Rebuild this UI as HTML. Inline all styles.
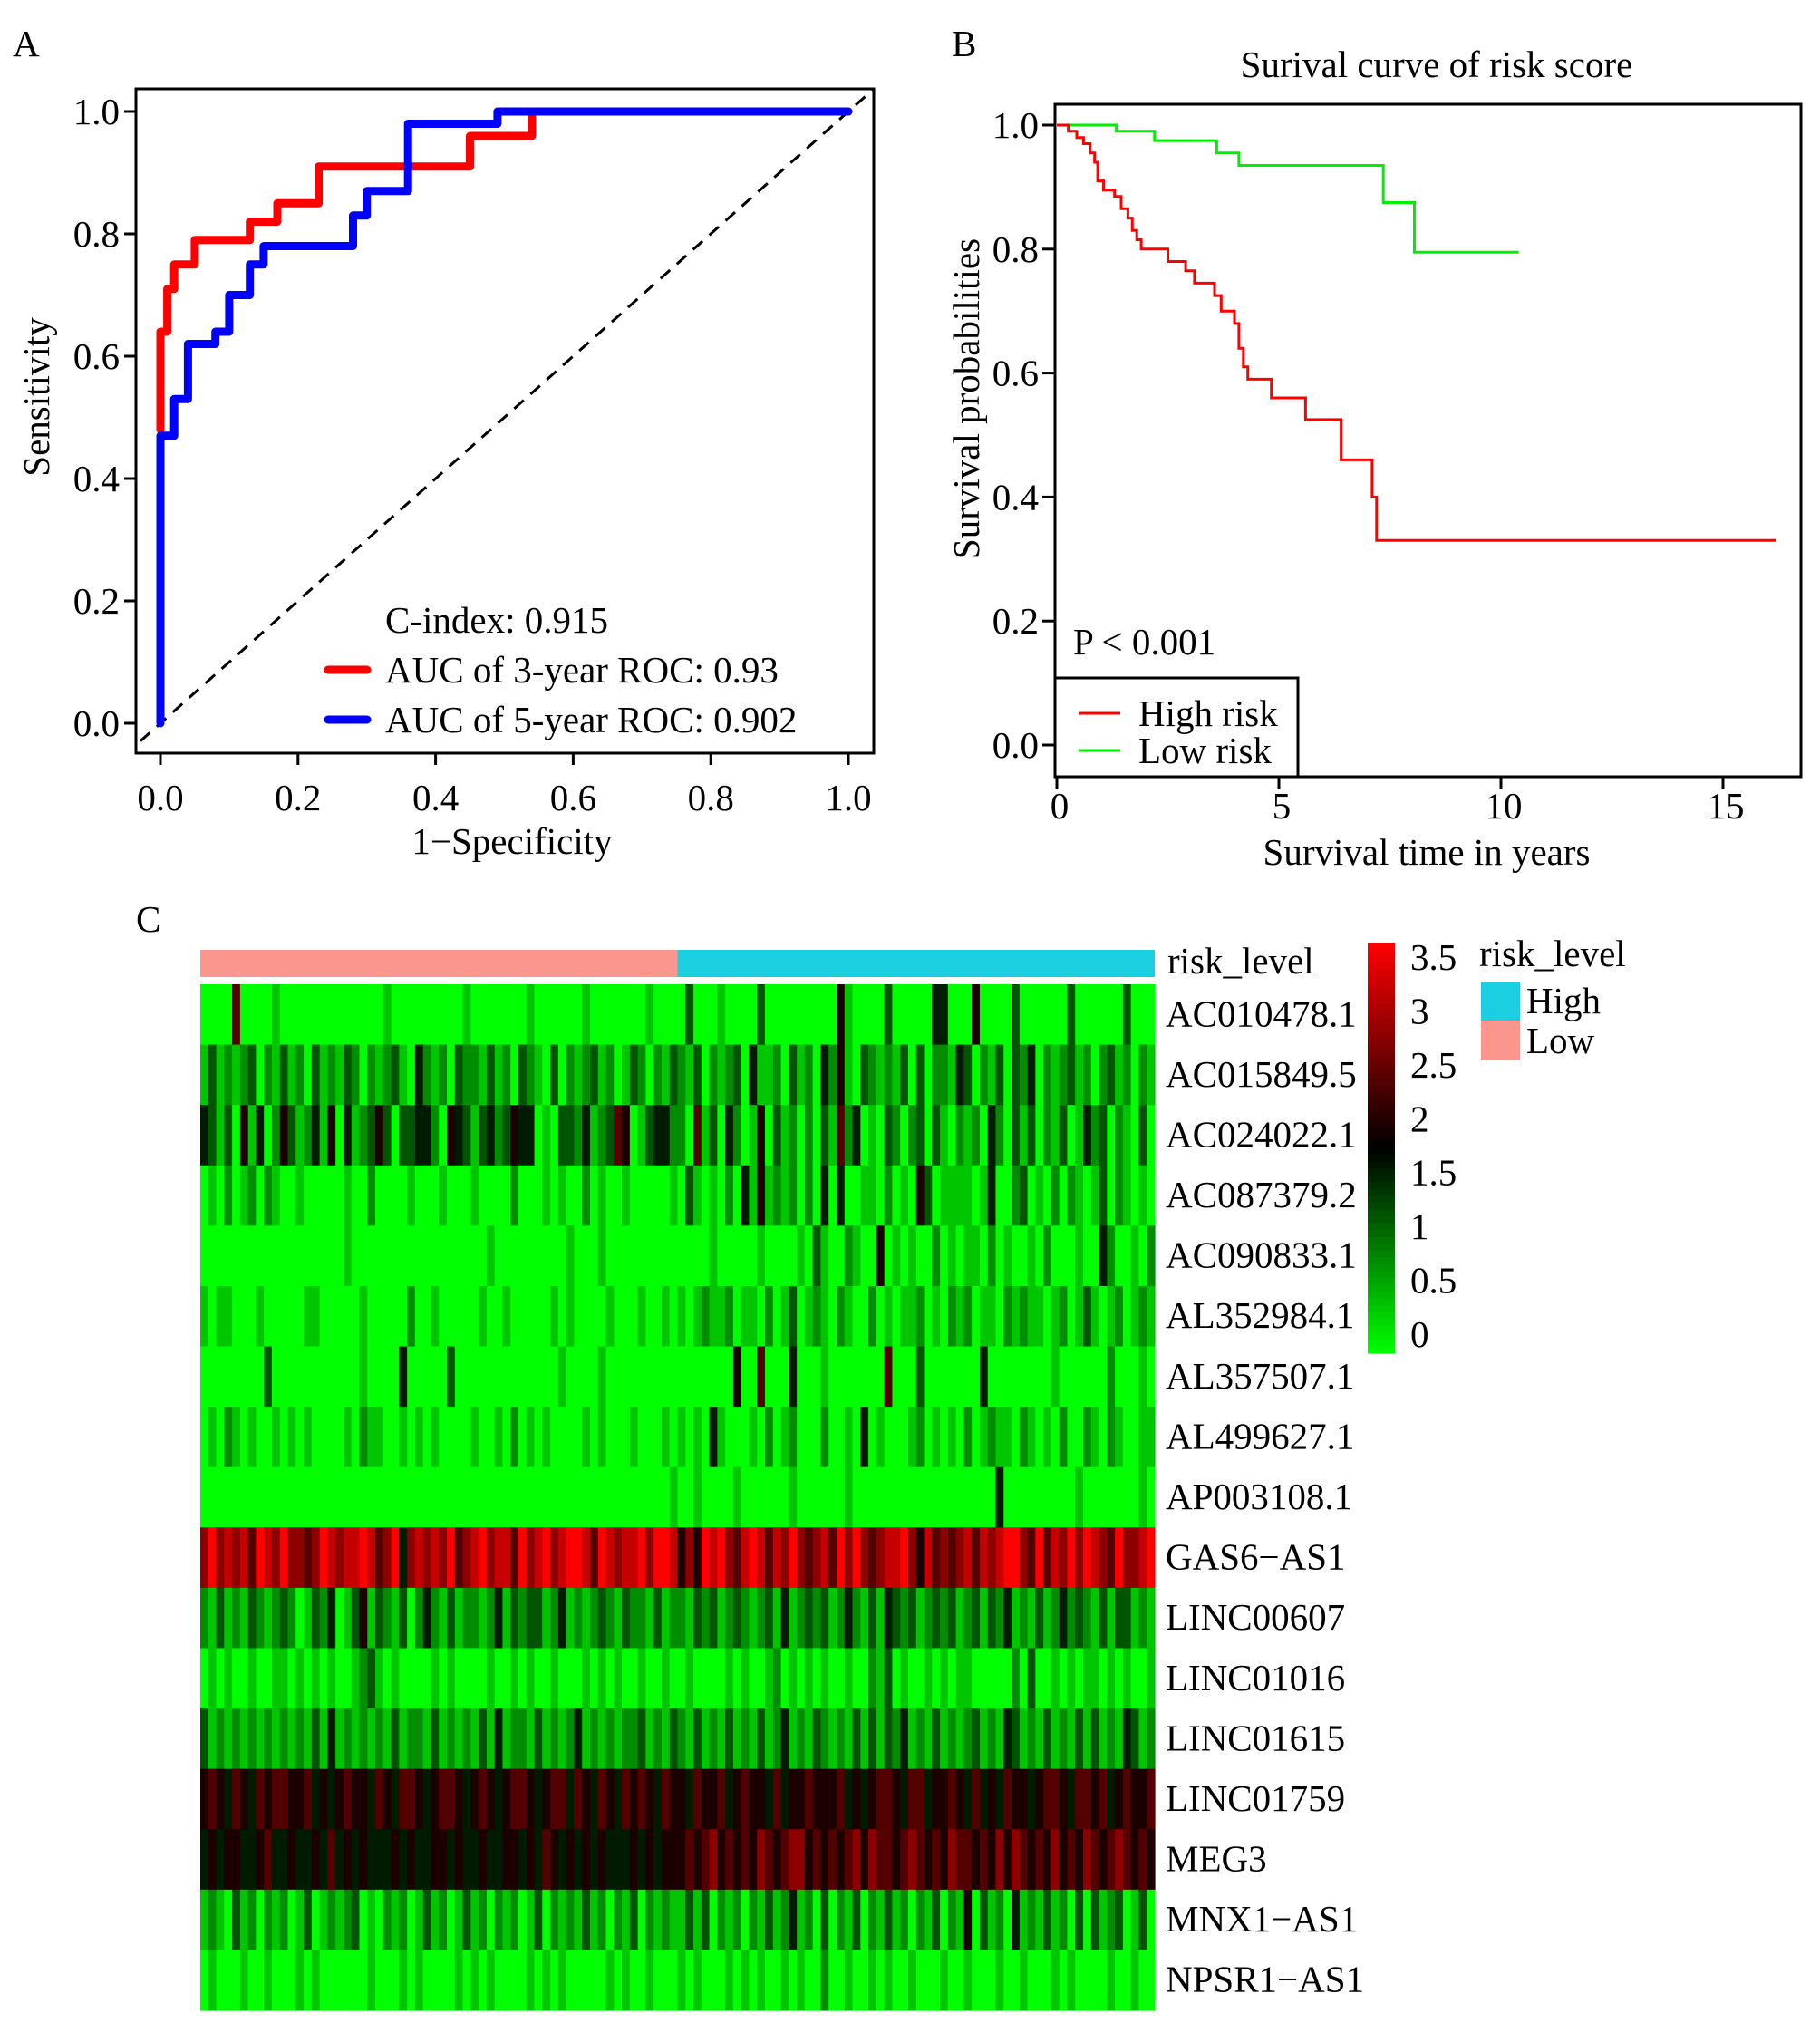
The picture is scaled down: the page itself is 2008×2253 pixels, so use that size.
<!DOCTYPE html>
<html><head><meta charset="utf-8">
<style>
html,body{margin:0;padding:0;background:#fff;}
svg{display:block;font-family:"Liberation Serif","Times New Roman",serif;}
</style></head>
<body>
<svg id="fig" width="2008" height="2253" viewBox="0 0 2008 2253" xmlns="http://www.w3.org/2000/svg">
<g id="panelA"></g>
<g id="panelB"></g>
<g id="panelC"></g>
</svg>
<script>
// ---------- Panel A data ----------
const rocTicks = [0.0, 0.2, 0.4, 0.6, 0.8, 1.0];
const roc3x = [0,0,0.01,0.01,0.02,0.02,0.05,0.05,0.13,0.13,0.17,0.17,0.23,0.23,0.45,0.45,0.54,0.54,1.0];
const roc3y = [0.48,0.64,0.64,0.71,0.71,0.75,0.75,0.79,0.79,0.82,0.82,0.85,0.85,0.91,0.91,0.96,0.96,1.0,1.0];
const roc5x = [0,0,0.02,0.02,0.04,0.04,0.08,0.08,0.10,0.10,0.13,0.13,0.15,0.15,0.28,0.28,0.30,0.30,0.36,0.36,0.49,0.49,1.0];
const roc5y = [0,0.47,0.47,0.53,0.53,0.62,0.62,0.64,0.64,0.70,0.70,0.75,0.75,0.78,0.78,0.83,0.83,0.87,0.87,0.98,0.98,1.0,1.0];
const rocLegend = ["C-index: 0.915","AUC of 3-year ROC: 0.93","AUC of 5-year ROC: 0.902"];

// ---------- Panel B data ----------
const kmYTicks = [0.0,0.2,0.4,0.6,0.8,1.0];
const kmXTicks = [0,5,10,15];
const highT = [0,0.26,0.45,0.6,0.75,0.85,0.92,1.05,1.3,1.45,1.6,1.7,1.8,1.9,2.5,2.9,3.1,3.55,3.7,4.0,4.1,4.2,4.3,4.83,5.6,6.4,7.1,7.2,16.2];
const highS = [1.0,0.99,0.98,0.97,0.955,0.94,0.91,0.895,0.885,0.865,0.85,0.83,0.815,0.80,0.78,0.765,0.745,0.725,0.70,0.68,0.64,0.61,0.59,0.56,0.525,0.46,0.40,0.33,0.33];
const lowT = [0,1.34,2.2,3.6,4.1,7.35,8.05,10.4];
const lowS = [1.0,0.99,0.975,0.955,0.935,0.875,0.795,0.795];

// ---------- Panel C data ----------
const genes = ["AC010478.1","AC015849.5","AC024022.1","AC087379.2","AC090833.1","AL352984.1","AL357507.1","AL499627.1","AP003108.1","GAS6\u2212AS1","LINC00607","LINC01016","LINC01615","LINC01759","MEG3","MNX1\u2212AS1","NPSR1\u2212AS1"];
const lowCount = 60;
const highCount = 60;
const colorTicks = [0,0.5,1,1.5,2,2.5,3,3.5];
// expression level per sample, digit d => value d/9*3.5
const expr = [
"000060000100000000000001000000000100000001000000100000001000"+"030001000030000000005100003000004400050000300000030000003000",
"131212302131203121320212310421203221312032103021231201320213"+"213021230411203120425103212130302214302130324021231202312021",
"431305140253124150412353033442054313423544010332412365013442"+"206130420150312020316240103202303102120420313021301423021030",
"010201202100100000100200001000100010000200010100201001000001"+"031010204151212020404001102010530111101400230102021013021010",
"000000000000000000100000000000000000100000000010001000000000"+"000010000010000103100210050101002010110201001020001004200102",
"101100010000011000001000002001000001001000001010000100010010"+"101211201102013012102100201011201021201102121101201310120121",
"000000003000000000001000040000030000000000000100001000000000"+"000000050060004000100000006000300000004000000001000000200010",
"010210100101010000102110010101000010010201010000101000100010"+"101041000102012000200104010001201010201211021010200210210011",
"000000000000000000000000000000000000000000000000000000000001"+"001000010000001000000100000000000000000040000000001000000010",
"797878698797767987889867947878796789788697897899869878897998"+"575989768986879767869797678897586767868789976968797987697789",
"213121321232013240135132130242131221241323312412123213221312"+"213231232123141232312421314323123231231324121312423213133121",
"010100100110101010012310100001010000100101001000101010010010"+"010000101001201010100100213010010101100000203001010110101001",
"312121212121213141212121312213121213141221312124121212231213"+"213121312131241213212131313241213121231214312131213131214312",
"565465465665564545655465466545665456545665456646546546565465"+"546556456554645565556454566546645565464546554566546656456556",
"454554456445445464545444545445545445445545465454545444545455"+"565675656576567756565675766567656576656575765657565765676565",
"121031202120130121230102120131201312021201302121312021302121"+"131302120213124120302130213120213021503120412131203031230130",
"010001001000101000000100010100001010100001010100000101001000"+"101000101010010100200100101001000100100010010001010000100100"
];

const NS = "http://www.w3.org/2000/svg";
const FS = 41;
function mk(parent, tag, attrs, text){
  const e = document.createElementNS(NS, tag);
  for (const k in attrs) e.setAttribute(k, attrs[k]);
  if (text !== undefined) e.textContent = text;
  parent.appendChild(e);
  return e;
}
function fmt1(v){ return v.toFixed(1); }

// ================= Panel A =================
(function(){
  const g = document.getElementById('panelA');
  const L=150,T=98,R=964,B=831;
  const sx = v => 177 + v*(936-177);
  const sy = v => 798 - v*(798-123);
  let t = mk(g,'text',{x:14,y:62,'font-size':FS},'A');
  
  
  const cp = mk(g,'clipPath',{id:'clipA'});
  mk(cp,'rect',{x:L,y:T,width:R-L,height:B-T});
  let diag = mk(g,'line',{x1:sx(-0.1),y1:sy(-0.1),x2:sx(1.1),y2:sy(1.1),stroke:'#000','stroke-width':3,'stroke-dasharray':'14,10','clip-path':'url(#clipA)'});
  
  
  function poly(xs,ys,color,name){
    const pts = xs.map((x,i)=>sx(x).toFixed(1)+','+sy(ys[i]).toFixed(1)).join(' ');
    const p = mk(g,'polyline',{points:pts,fill:'none',stroke:color,'stroke-width':9,'stroke-linejoin':'round','stroke-linecap':'round'});
    
    
  }
  poly(roc3x,roc3y,'#ff0000','roc-3-year-line');
  poly(roc5x,roc5y,'#0000ff','roc-5-year-line');
  let box = mk(g,'rect',{x:L,y:T,width:R-L,height:B-T,fill:'none',stroke:'#000','stroke-width':3});
  
  
  rocTicks.forEach(v=>{
    mk(g,'line',{x1:sx(v),y1:B,x2:sx(v),y2:B+13,stroke:'#000','stroke-width':3});
    let tx = mk(g,'text',{x:sx(v),y:894,'font-size':FS,'text-anchor':'middle'},fmt1(v));
    
    
    mk(g,'line',{x1:L,y1:sy(v),x2:L-13,y2:sy(v),stroke:'#000','stroke-width':3});
    let ty = mk(g,'text',{x:132,y:sy(v)+14,'font-size':FS,'text-anchor':'end'},fmt1(v));
    
    
  });
  let xt = mk(g,'text',{x:565,y:942,'font-size':FS,'text-anchor':'middle'},'1\u2212Specificity');
  
  
  let yt = mk(g,'text',{x:0,y:0,'font-size':FS,'text-anchor':'middle',transform:'translate(54,438) rotate(-90)'},'Sensitivity');
  
  
  let l0 = mk(g,'text',{x:425,y:698,'font-size':FS},rocLegend[0]);
  
  
  [['#ff0000',739,rocLegend[1],'legend-entry-3-year'],['#0000ff',794,rocLegend[2],'legend-entry-5-year']].forEach(d=>{
    const lg = mk(g,'g',{});
    
    
    mk(lg,'line',{x1:362,y1:d[1],x2:405,y2:d[1],stroke:d[0],'stroke-width':9,'stroke-linecap':'round'});
    mk(lg,'text',{x:425,y:d[1]+14,'font-size':FS},d[2]);
  });
})();

// ================= Panel B =================
(function(){
  const g = document.getElementById('panelB');
  const L=1164,T=115,R=1987,B=857;
  const sx = v => 1166 + v*49.0;
  const sy = v => 822 - v*(822-138);
  let t = mk(g,'text',{x:1050,y:62,'font-size':FS},'B');
  
  
  let title = mk(g,'text',{x:1585,y:85,'font-size':FS,'text-anchor':'middle'},'Surival curve of risk score');
  
  
  function step(ts,ss,color,name){
    let d = 'M'+sx(ts[0]).toFixed(1)+','+sy(ss[0]).toFixed(1);
    for(let i=1;i<ts.length;i++){
      d += ' H'+sx(ts[i]).toFixed(1)+' V'+sy(ss[i]).toFixed(1);
    }
    const p = mk(g,'path',{d:d,fill:'none',stroke:color,'stroke-width':3});
    
    
  }
  step(lowT,lowS,'#00ee00','low-risk-curve');
  step(highT,highS,'#ff0000','high-risk-curve');
  let box = mk(g,'rect',{x:L,y:T,width:R-L,height:B-T,fill:'none',stroke:'#000','stroke-width':3});
  
  
  kmYTicks.forEach(v=>{
    mk(g,'line',{x1:L,y1:sy(v),x2:L-14,y2:sy(v),stroke:'#000','stroke-width':3});
    let ty = mk(g,'text',{x:1146,y:sy(v)+14,'font-size':FS,'text-anchor':'end'},fmt1(v));
    
    
  });
  kmXTicks.forEach(v=>{
    mk(g,'line',{x1:sx(v),y1:B,x2:sx(v),y2:B+14,stroke:'#000','stroke-width':3});
    let tx = mk(g,'text',{x:sx(v)+3,y:903,'font-size':FS,'text-anchor':'middle'},String(v));
    
    
  });
  let xt = mk(g,'text',{x:1574,y:954,'font-size':FS,'text-anchor':'middle'},'Survival time in years');
  
  
  let yt = mk(g,'text',{x:0,y:0,'font-size':FS,'text-anchor':'middle',transform:'translate(1080,440) rotate(-90)'},'Survival probabilities');
  
  
  let pv = mk(g,'text',{x:1184,y:722,'font-size':FS},'P < 0.001');
  
  
  const lg = mk(g,'g',{});
  
  
  mk(lg,'rect',{x:1164,y:748,width:268,height:109,fill:'#fff',stroke:'#000','stroke-width':3});
  mk(lg,'line',{x1:1190,y1:787,x2:1236,y2:787,stroke:'#ff0000','stroke-width':3});
  mk(lg,'text',{x:1256,y:801,'font-size':FS},'High risk');
  mk(lg,'line',{x1:1190,y1:828,x2:1236,y2:828,stroke:'#00ee00','stroke-width':3});
  mk(lg,'text',{x:1256,y:842,'font-size':FS},'Low risk');
})();

// ================= Panel C =================
(function(){
  const g = document.getElementById('panelC');
  const HL=221, HR=1274, HT=1086, HB=2218;
  const rowH = (HB-HT)/genes.length;
  function col(v){
    v = Math.max(0,Math.min(3.5,v));
    const mid = 1.75;
    if (v<=mid){ const f=v/mid; return 'rgb(0,'+Math.round(255*(1-f))+',0)'; }
    const f=(v-mid)/mid; return 'rgb('+Math.round(255*f)+',0,0)';
  }
  let t = mk(g,'text',{x:150,y:1028,'font-size':FS},'C');
  
  
  const total = lowCount+highCount;
  const aw = (HR-HL)/total;
  let a1 = mk(g,'rect',{x:HL,y:1048,width:aw*lowCount,height:30,fill:'#fa968e'});
  
  
  let a2 = mk(g,'rect',{x:HL+aw*lowCount,y:1048,width:aw*highCount,height:30,fill:'#1ccfe0'});
  
  
  let al = mk(g,'text',{x:1288,y:1074,'font-size':FS},'risk_level');
  
  
  expr.forEach((row,ri)=>{
    const n = row.length;
    const cw = (HR-HL)/n;
    const rg = mk(g,'g',{});
    
    
    for(let ci=0;ci<n;ci++){
      const v = parseInt(row[ci],10)/9*3.5;
      mk(rg,'rect',{x:(HL+ci*cw).toFixed(2),y:(HT+ri*rowH).toFixed(2),width:(cw+0.6).toFixed(2),height:(rowH+0.6).toFixed(2),fill:col(v)});
    }
    let gl = mk(g,'text',{x:1286,y:(HT+ri*rowH+rowH/2+13).toFixed(1),'font-size':FS},genes[ri]);
    
    
  });
  const CT=1040, CB=1493, CL=1509, CW=30;
  const cbs = mk(g,'g',{});
  
  
  const steps=60;
  for(let i=0;i<steps;i++){
    const v = 3.5*(1-(i+0.5)/steps);
    mk(cbs,'rect',{x:CL,y:(CT+i*(CB-CT)/steps).toFixed(2),width:CW,height:((CB-CT)/steps+0.6).toFixed(2),fill:col(v)});
  }
  const cy = v => 1472 - v*(1472-1056)/3.5;
  colorTicks.forEach(v=>{
    let ct = mk(g,'text',{x:1556,y:(cy(v)+14).toFixed(1),'font-size':FS},String(v));
    
    
  });
  const lg = mk(g,'g',{});
  
  
  mk(lg,'text',{x:1632,y:1066,'font-size':FS},'risk_level');
  mk(lg,'rect',{x:1634,y:1083,width:43,height:43,fill:'#1ccfe0'});
  mk(lg,'text',{x:1684,y:1118,'font-size':FS},'High');
  mk(lg,'rect',{x:1634,y:1126,width:43,height:44,fill:'#fa968e'});
  mk(lg,'text',{x:1684,y:1162,'font-size':FS},'Low');
})();
</script>
</body></html>
